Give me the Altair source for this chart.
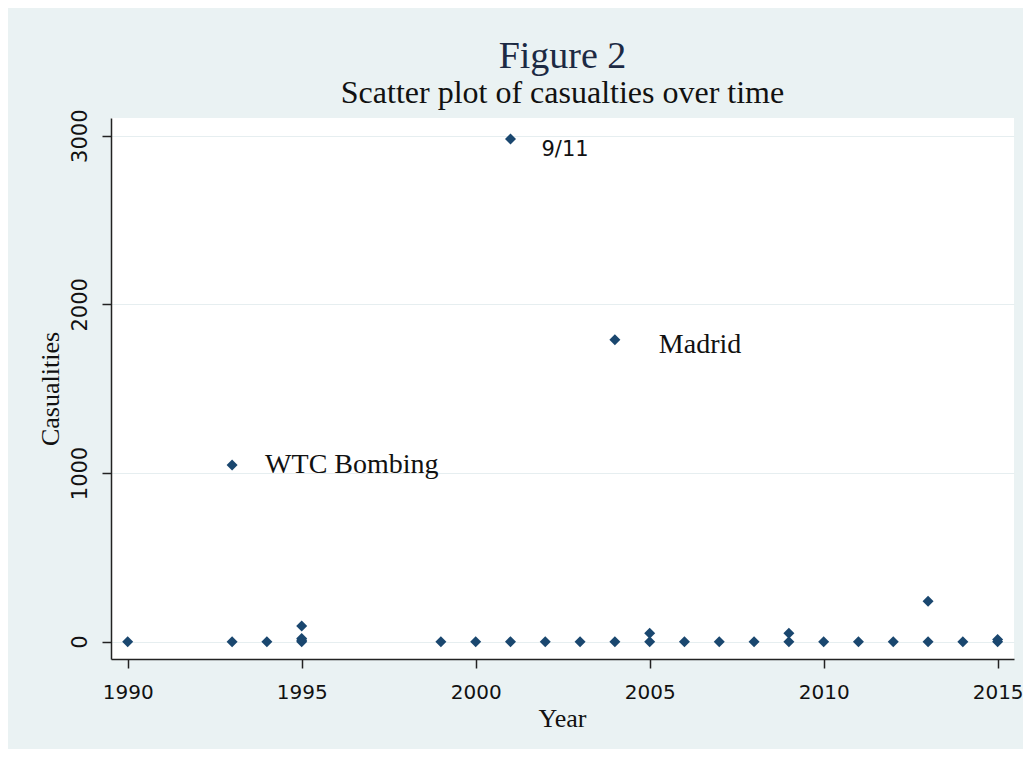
import altair as alt
import pandas as pd

# Data
years = [1990, 1993, 1993, 1994, 1995, 1995, 1995, 1995, 1999, 2000, 2001, 2001,
         2002, 2003, 2004, 2004, 2005, 2005, 2006, 2007, 2008, 2009, 2009, 2010,
         2011, 2012, 2013, 2013, 2014, 2015, 2015]
casualties = [0, 1048, 0, 0, 0, 8, 18, 93, 0, 0, 2980, 0,
              0, 0, 1790, 0, 0, 50, 0, 0, 0, 0, 50, 0,
              0, 0, 0, 240, 0, 0, 12]

label_texts = ["WTC Bombing", "9/11", "Madrid"]
label_years = [1993, 2001, 2004]
label_values = [1048, 2980, 1790]

x_ticks = [1990, 1995, 2000, 2005, 2010, 2015]
y_ticks = [0, 1000, 2000, 3000]

df = pd.DataFrame({"Year": years, "Casualties": casualties})
lab = pd.DataFrame({"Year": label_years, "Casualties": label_values, "label": label_texts})

NAVY = "#1a476f"
BG = "#eaf2f3"

x_enc = alt.X("Year:Q",
              scale=alt.Scale(domain=[1989.52, 2015.47], nice=False, zero=False),
              axis=alt.Axis(values=x_ticks, format="d", grid=False,
                            domainColor="#222", domainWidth=1.5,
                            tickColor="#222", tickWidth=1.5, tickSize=9,
                            labelFont="DejaVu Sans", labelFontSize=20, labelColor="#111",
                            labelPadding=14,
                            title="Year", titleFont="Liberation Serif", titleFontSize=26,
                            titleFontWeight="normal", titleColor="#111",
                            titleBaseline="alphabetic", titleX=451, titleY=67))
y_enc = alt.Y("Casualties:Q",
              scale=alt.Scale(domain=[-103, 3105], nice=False, zero=False),
              axis=alt.Axis(values=y_ticks, format="d", grid=True, gridColor="#e6eef0",
                            gridWidth=1.2,
                            domainColor="#222", domainWidth=1.5,
                            tickColor="#222", tickWidth=1.5, tickSize=9,
                            labelFont="DejaVu Sans", labelFontSize=21, labelColor="#111",
                            labelAngle=270, labelPadding=12,
                            title="Casualities", titleFont="Liberation Serif", titleFontSize=26,
                            titleFontWeight="normal", titleColor="#111",
                            titleBaseline="alphabetic", titleX=-53, titleY=270.5, titleAngle=270))

points = alt.Chart(df).mark_point(shape="diamond", filled=True, size=121,
                                  color=NAVY, opacity=1).encode(x=x_enc, y=y_enc)

base_lab = alt.Chart(lab)
t_wtc = base_lab.transform_filter(alt.datum.label == "WTC Bombing").mark_text(
    align="left", baseline="alphabetic", dx=33, dy=8,
    font="Liberation Serif", fontSize=28, color="#111").encode(
    x="Year:Q", y="Casualties:Q", text="label:N")
t_911 = base_lab.transform_filter(alt.datum.label == "9/11").mark_text(
    align="left", baseline="alphabetic", dx=31, dy=17,
    font="DejaVu Sans", fontSize=21, color="#111").encode(
    x="Year:Q", y="Casualties:Q", text="label:N")
t_mad = base_lab.transform_filter(alt.datum.label == "Madrid").mark_text(
    align="left", baseline="alphabetic", dx=44, dy=13,
    font="Liberation Serif", fontSize=28, color="#111").encode(
    x="Year:Q", y="Casualties:Q", text="label:N")

chart = alt.layer(points, t_wtc, t_911, t_mad).properties(
    width=903, height=541,
    background=BG,
    padding={"left": 103, "top": 110, "right": 9, "bottom": 90},
    autosize=alt.AutoSizeParams(type="none"),
    title=alt.TitleParams(text="Figure 2", subtitle="Scatter plot of casualties over time",
                          font="Liberation Serif", fontSize=38, fontWeight="normal",
                          color="#1c2a44", subtitleFont="Liberation Serif",
                          subtitleFontSize=32, subtitleColor="#111",
                          subtitlePadding=2, anchor="middle", offset=0),
).configure_view(fill="white", stroke=None)

chart.save("out.html", embed_options={"renderer": "svg", "actions": False})
